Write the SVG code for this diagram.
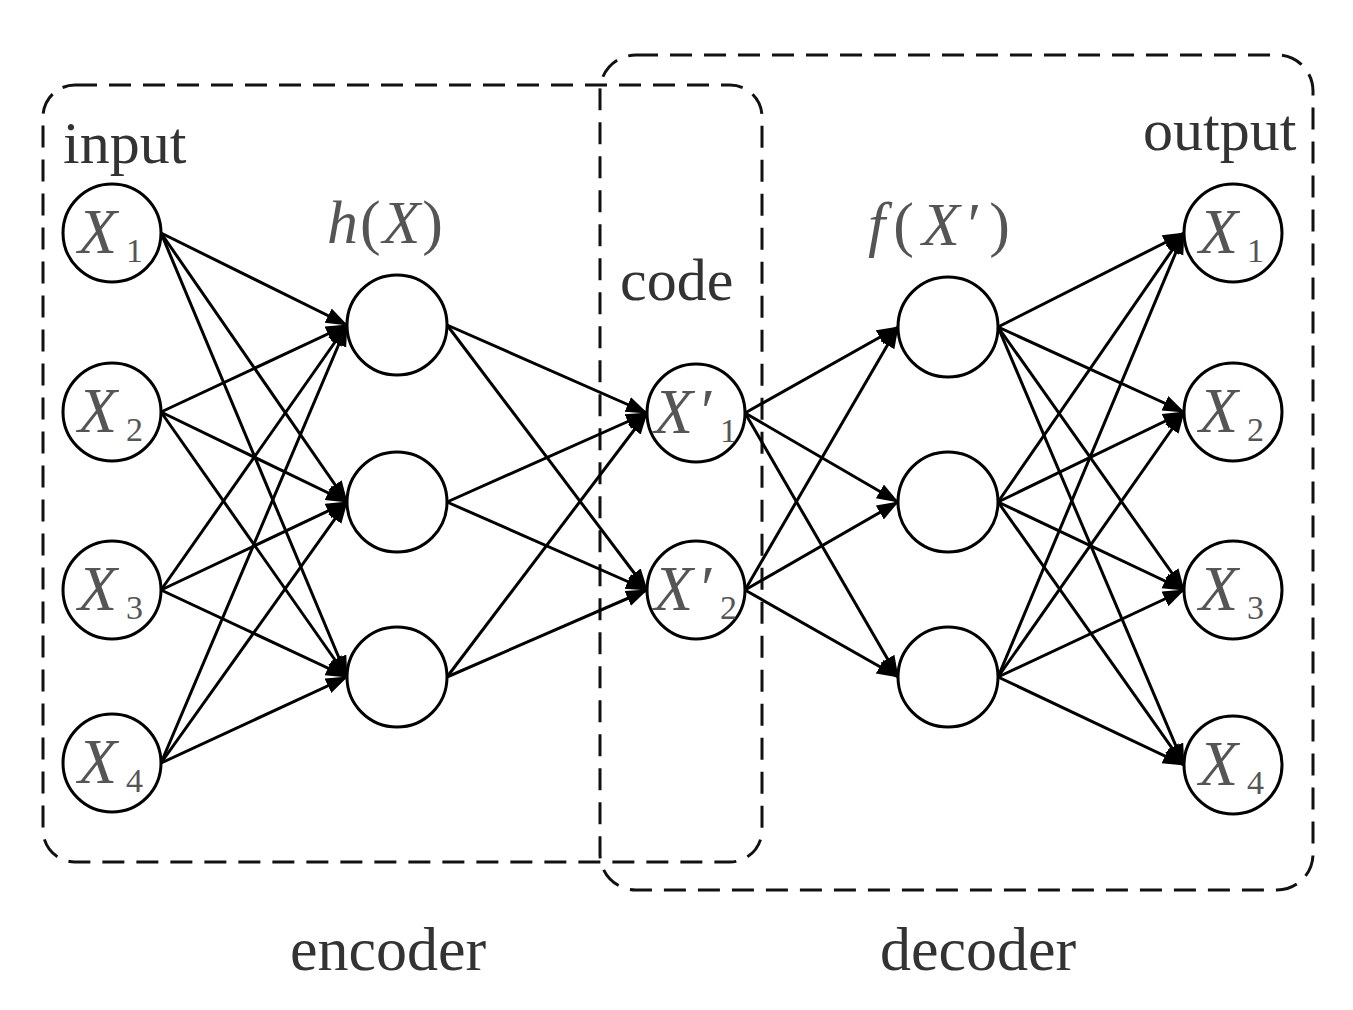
<svg xmlns="http://www.w3.org/2000/svg" width="1353" height="1010" viewBox="0 0 1353 1010">
<style>
.box{fill:none;stroke:#111;stroke-width:3;stroke-dasharray:22 12}
.node{fill:#fff;stroke:#000;stroke-width:3}
.edge{stroke:#000;stroke-width:3;fill:none;marker-end:url(#ah)}
.lbl{font-family:"Liberation Serif","Times New Roman",serif;font-size:60px;fill:#333}
.math{font-family:"Liberation Serif","Times New Roman",serif;font-size:62px;fill:#555}
.it{font-style:italic}
.xl{font-family:"Liberation Serif","Times New Roman",serif;font-size:64px;fill:#555;font-style:italic}
.sub{font-size:34px;font-style:normal}
</style>
<defs>
<marker id="ah" markerUnits="userSpaceOnUse" markerWidth="24" markerHeight="18" refX="21" refY="8" orient="auto">
<path d="M0,0 L22,8 L0,16 z" fill="#000"/>
</marker>
</defs>
<rect width="1353" height="1010" fill="#fff"/>
<g id="boxes">
<rect id="encoder-box" class="box" x="43" y="85" width="719" height="777" rx="32"/>
<rect id="decoder-box" class="box" x="600" y="55" width="713" height="835" rx="36"/>
</g>
<g id="connectors">
<line class="edge" x1="161" y1="233" x2="347" y2="325"/>
<line class="edge" x1="161" y1="233" x2="347" y2="502"/>
<line class="edge" x1="161" y1="233" x2="347" y2="677"/>
<line class="edge" x1="161" y1="412" x2="347" y2="325"/>
<line class="edge" x1="161" y1="412" x2="347" y2="502"/>
<line class="edge" x1="161" y1="412" x2="347" y2="677"/>
<line class="edge" x1="161" y1="590" x2="347" y2="325"/>
<line class="edge" x1="161" y1="590" x2="347" y2="502"/>
<line class="edge" x1="161" y1="590" x2="347" y2="677"/>
<line class="edge" x1="161" y1="763" x2="347" y2="325"/>
<line class="edge" x1="161" y1="763" x2="347" y2="502"/>
<line class="edge" x1="161" y1="763" x2="347" y2="677"/>
<line class="edge" x1="447" y1="325" x2="647" y2="413"/>
<line class="edge" x1="447" y1="325" x2="647" y2="590"/>
<line class="edge" x1="447" y1="502" x2="647" y2="413"/>
<line class="edge" x1="447" y1="502" x2="647" y2="590"/>
<line class="edge" x1="447" y1="677" x2="647" y2="413"/>
<line class="edge" x1="447" y1="677" x2="647" y2="590"/>
<line class="edge" x1="745" y1="413" x2="898" y2="327"/>
<line class="edge" x1="745" y1="413" x2="898" y2="502"/>
<line class="edge" x1="745" y1="413" x2="898" y2="677"/>
<line class="edge" x1="745" y1="590" x2="898" y2="327"/>
<line class="edge" x1="745" y1="590" x2="898" y2="502"/>
<line class="edge" x1="745" y1="590" x2="898" y2="677"/>
<line class="edge" x1="998" y1="327" x2="1184" y2="233"/>
<line class="edge" x1="998" y1="327" x2="1184" y2="412"/>
<line class="edge" x1="998" y1="327" x2="1184" y2="590"/>
<line class="edge" x1="998" y1="327" x2="1184" y2="765"/>
<line class="edge" x1="998" y1="502" x2="1184" y2="233"/>
<line class="edge" x1="998" y1="502" x2="1184" y2="412"/>
<line class="edge" x1="998" y1="502" x2="1184" y2="590"/>
<line class="edge" x1="998" y1="502" x2="1184" y2="765"/>
<line class="edge" x1="998" y1="677" x2="1184" y2="233"/>
<line class="edge" x1="998" y1="677" x2="1184" y2="412"/>
<line class="edge" x1="998" y1="677" x2="1184" y2="590"/>
<line class="edge" x1="998" y1="677" x2="1184" y2="765"/>
</g>
<g id="in1"><circle class="node" cx="112" cy="233" r="49"/><text class="xl"><tspan x="78" y="253">X</tspan><tspan class="sub" x="126" y="262">1</tspan></text></g>
<g id="in2"><circle class="node" cx="112" cy="412" r="49"/><text class="xl"><tspan x="78" y="432">X</tspan><tspan class="sub" x="126" y="441">2</tspan></text></g>
<g id="in3"><circle class="node" cx="112" cy="590" r="49"/><text class="xl"><tspan x="78" y="610">X</tspan><tspan class="sub" x="126" y="619">3</tspan></text></g>
<g id="in4"><circle class="node" cx="112" cy="763" r="49"/><text class="xl"><tspan x="78" y="783">X</tspan><tspan class="sub" x="126" y="792">4</tspan></text></g>
<g id="h1"><circle class="node" cx="397" cy="325" r="50"/></g>
<g id="h2"><circle class="node" cx="397" cy="502" r="50"/></g>
<g id="h3"><circle class="node" cx="397" cy="677" r="50"/></g>
<g id="c1"><circle class="node" cx="696" cy="413" r="49"/><text class="xl"><tspan x="654" y="433">X</tspan><tspan x="701" y="433" style="font-style:normal">′</tspan><tspan class="sub" x="720" y="442">1</tspan></text></g>
<g id="c2"><circle class="node" cx="696" cy="590" r="49"/><text class="xl"><tspan x="654" y="610">X</tspan><tspan x="701" y="610" style="font-style:normal">′</tspan><tspan class="sub" x="720" y="619">2</tspan></text></g>
<g id="f1"><circle class="node" cx="948" cy="327" r="50"/></g>
<g id="f2"><circle class="node" cx="948" cy="502" r="50"/></g>
<g id="f3"><circle class="node" cx="948" cy="677" r="50"/></g>
<g id="out1"><circle class="node" cx="1233" cy="233" r="49"/><text class="xl"><tspan x="1199" y="253">X</tspan><tspan class="sub" x="1247" y="262">1</tspan></text></g>
<g id="out2"><circle class="node" cx="1233" cy="412" r="49"/><text class="xl"><tspan x="1199" y="432">X</tspan><tspan class="sub" x="1247" y="441">2</tspan></text></g>
<g id="out3"><circle class="node" cx="1233" cy="590" r="49"/><text class="xl"><tspan x="1199" y="610">X</tspan><tspan class="sub" x="1247" y="619">3</tspan></text></g>
<g id="out4"><circle class="node" cx="1233" cy="765" r="49"/><text class="xl"><tspan x="1199" y="785">X</tspan><tspan class="sub" x="1247" y="794">4</tspan></text></g>
<g id="labels">
<text class="lbl" x="63" y="163">input</text>
<text class="lbl" x="620" y="300">code</text>
<text class="lbl" x="1143" y="150">output</text>
<text class="lbl" x="290" y="970" style="font-size:62px">encoder</text>
<text class="lbl" x="880" y="970" style="font-size:62px">decoder</text>
<text class="math" x="327" y="243" textLength="116" lengthAdjust="spacing"><tspan class="it">h</tspan>(<tspan class="it">X</tspan>)</text>
<text class="math" x="868" y="245" textLength="142" lengthAdjust="spacing"><tspan class="it">f</tspan>(<tspan class="it">X</tspan>′)</text>
</g>
</svg>
